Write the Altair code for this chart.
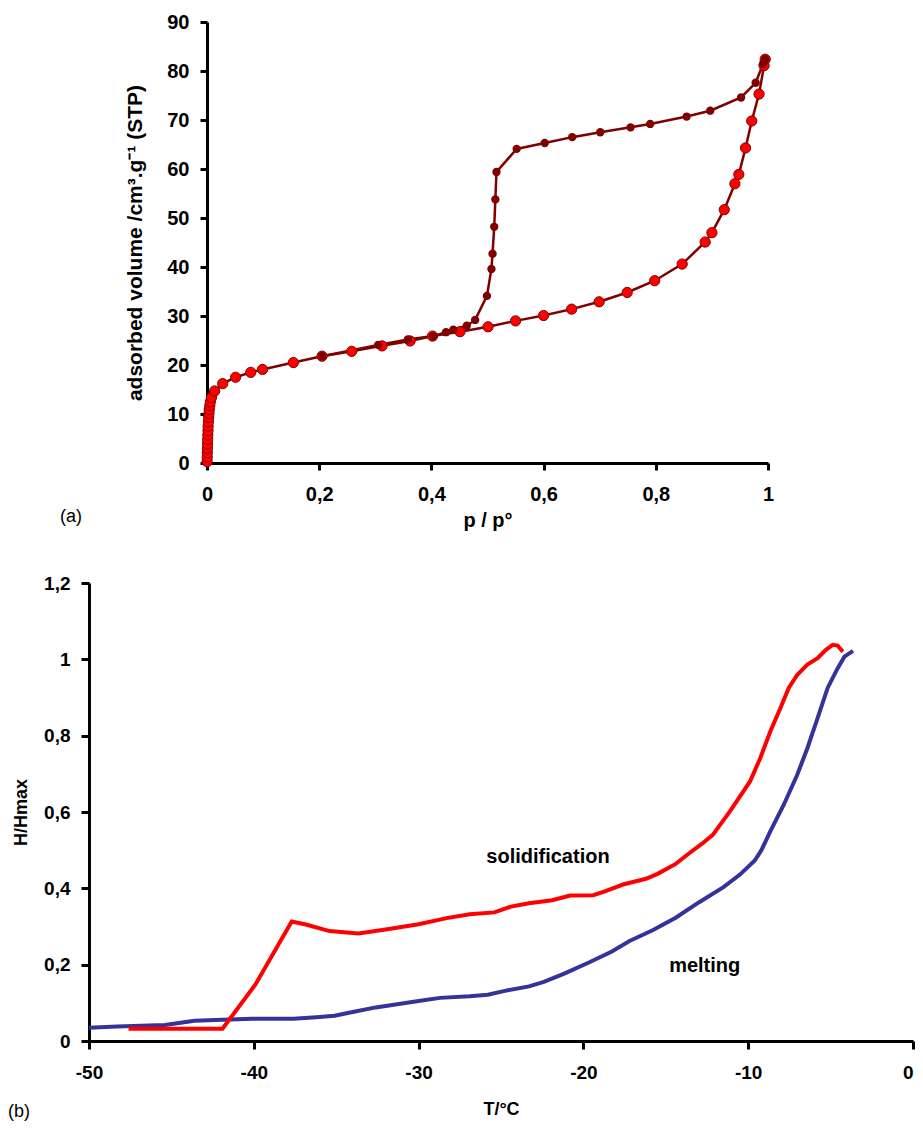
import altair as alt
import pandas as pd

FONT = "Liberation Sans"

# ---------------- panel (a): N2 isotherm ----------------
ads_p = [0.0002, 0.0004, 0.0006, 0.0008, 0.001, 0.0012, 0.0015, 0.0018, 0.002, 0.0025,
         0.003, 0.0035, 0.004, 0.005, 0.006, 0.008, 0.0136, 0.028, 0.051, 0.078,
         0.099, 0.154, 0.205, 0.258, 0.312, 0.362, 0.402, 0.451, 0.501, 0.550,
         0.600, 0.650, 0.699, 0.749, 0.798, 0.847, 0.888, 0.900, 0.922, 0.941,
         0.948, 0.960, 0.971, 0.984, 0.993, 0.995]
ads_v = [0.3, 1.2, 2.1, 3.0, 3.9, 4.8, 5.7, 6.6, 7.5, 8.4,
         9.3, 10.1, 10.9, 11.7, 12.5, 13.4, 14.7, 16.2, 17.5, 18.5,
         19.1, 20.5, 21.8, 22.8, 23.9, 24.9, 25.9, 26.8, 27.8, 29.0,
         30.1, 31.4, 32.9, 34.8, 37.2, 40.6, 45.1, 47.0, 51.7, 57.0,
         58.9, 64.3, 69.8, 75.3, 81.1, 82.4]

des_p = [0.995, 0.991, 0.978, 0.952, 0.897, 0.855, 0.790, 0.755, 0.701, 0.651,
         0.602, 0.552, 0.516, 0.514, 0.512, 0.509, 0.507, 0.499, 0.478, 0.463,
         0.439, 0.426, 0.403, 0.358, 0.305, 0.205]
des_v = [82.4, 81.4, 77.6, 74.6, 71.9, 70.7, 69.2, 68.5, 67.5, 66.5,
         65.3, 64.1, 59.4, 53.8, 48.2, 42.7, 39.6, 34.1, 29.2, 28.0,
         27.2, 26.7, 25.9, 25.2, 24.1, 21.8]

xa_ticks = [0, 0.2, 0.4, 0.6, 0.8, 1]
ya_ticks = [0, 10, 20, 30, 40, 50, 60, 70, 80, 90]

# ---------------- panel (b): thermoporometry ----------------
sol_t = [-47.6, -41.9, -39.9, -37.7, -36.9, -35.4, -33.65, -31.9, -30.0, -28.3,
         -26.9, -25.4, -24.4, -23.3, -21.9, -20.8, -19.4, -18.7, -17.6, -16.2,
         -15.5, -14.4, -13.58, -12.8, -12.15, -11.12, -9.89, -9.27, -8.66, -8.05,
         -7.54, -7.03, -6.41, -5.79, -5.28, -4.88, -4.57, -4.26]
sol_h = [0.032, 0.032, 0.148, 0.313, 0.306, 0.288, 0.282, 0.293, 0.306, 0.322,
         0.332, 0.337, 0.352, 0.361, 0.369, 0.381, 0.382, 0.392, 0.410, 0.425,
         0.438, 0.464, 0.492, 0.517, 0.540, 0.601, 0.680, 0.741, 0.811, 0.872,
         0.925, 0.959, 0.986, 1.003, 1.025, 1.038, 1.036, 1.020]

mel_t = [-50.0, -48.3, -45.4, -43.6, -41.9, -40.1, -37.6, -36.2, -35.1, -34.0,
         -32.6, -31.2, -30.0, -28.7, -26.9, -25.8, -24.7, -23.3, -22.4, -21.2,
         -19.7, -18.3, -17.2, -15.8, -14.4, -13.0, -11.5, -10.5, -9.6, -9.2,
         -8.66, -7.84, -7.03, -6.41, -5.79, -5.18, -4.57, -4.16, -3.64]
mel_h = [0.035, 0.038, 0.042, 0.053, 0.056, 0.058, 0.058, 0.062, 0.066, 0.076,
         0.088, 0.097, 0.105, 0.113, 0.117, 0.121, 0.132, 0.143, 0.155, 0.176,
         0.205, 0.234, 0.262, 0.290, 0.323, 0.363, 0.403, 0.436, 0.473, 0.500,
         0.549, 0.619, 0.697, 0.767, 0.846, 0.925, 0.977, 1.007, 1.022]

xb_ticks = [-50, -40, -30, -20, -10, 0]
yb_ticks = [0, 0.2, 0.4, 0.6, 0.8, 1, 1.2]

ann_text = ["solidification", "melting"]
ann_t = [-22.15, -12.64]
ann_h = [0.467, 0.181]

COMMA = "replace('' + datum.value, '.', ',')"

# layout (pixels): both panels share the same group origin; panel (a)'s plot is
# shifted right inside its group by A_SHIFT
A_SHIFT = 118
A_W = 561


def axis(values, title, orient, tick, lpad, tpad, lsize, tsize, **kw):
    return alt.Axis(
        values=values, title=title, labelExpr=COMMA, grid=False,
        domainColor="black", domainWidth=3, tickColor="black", tickWidth=3,
        tickSize=tick, labelFont=FONT, labelFontWeight="bold", labelFontSize=lsize,
        labelColor="black", labelPadding=lpad, labelFlush=False, labelOverlap=False,
        titleFont=FONT, titleFontWeight="bold", titleFontSize=tsize, titleColor="black",
        titlePadding=tpad, orient=orient, **kw
    )


# ---- panel a ----
ads = pd.DataFrame({"p": ads_p, "v": ads_v, "i": list(range(len(ads_p)))})
des = pd.DataFrame({"p": des_p, "v": des_v, "i": list(range(len(des_p)))})

xa = alt.X("p:Q", scale=alt.Scale(domain=[0, 1], nice=False, zero=False,
                                  range=[A_SHIFT, A_SHIFT + A_W]),
           axis=axis(xa_ticks, "p / p°", "bottom", 7, 14, 6, 20, 20))
ya = alt.Y("v:Q", scale=alt.Scale(domain=[0, 90], nice=False),
           axis=axis(ya_ticks, "adsorbed volume /cm³.g⁻¹ (STP)", "left", 7, 11, 21, 20, 21,
                     offset=-A_SHIFT))

ads_line = alt.Chart(ads).mark_line(color="#800000", strokeWidth=2.5).encode(x=xa, y=ya, order="i:Q")
ads_pts = alt.Chart(ads).mark_circle(size=105, color="#FF0000", stroke="#800000",
                                     strokeWidth=1, opacity=1).encode(x=xa, y=ya)
des_line = alt.Chart(des).mark_line(color="#800000", strokeWidth=2.5).encode(x=xa, y=ya, order="i:Q")
des_pts = alt.Chart(des).mark_circle(size=70, color="#800000", opacity=1).encode(x=xa, y=ya)

lab_a = alt.Chart(pd.DataFrame({"s": ["(a)"]})).mark_text(
    align="left", baseline="middle", font=FONT, fontSize=18, color="black"
).encode(x=alt.value(-29), y=alt.value(495), text="s:N")

panel_a = alt.layer(ads_line, des_line, ads_pts, des_pts, lab_a).properties(
    width=A_SHIFT + A_W, height=441)

# ---- panel b ----
sol = pd.DataFrame({"t": sol_t, "h": sol_h, "i": list(range(len(sol_t)))})
mel = pd.DataFrame({"t": mel_t, "h": mel_h, "i": list(range(len(mel_t)))})
ann = pd.DataFrame({"t": ann_t, "h": ann_h, "s": ann_text})

xb = alt.X("t:Q", scale=alt.Scale(domain=[-50, 0], nice=False, zero=False),
           axis=axis(xb_ticks, "T/°C", "bottom", 8, 14, 18, 19, 18,
                     labelAlign=alt.condition("datum.value == 0", alt.value("right"), alt.value("center"))))
yb = alt.Y("h:Q", scale=alt.Scale(domain=[0, 1.2], nice=False),
           axis=axis(yb_ticks, "H/Hmax", "left", 8, 11, 13, 19, 18))

mel_line = alt.Chart(mel).mark_line(color="#333399", strokeWidth=4).encode(x=xb, y=yb, order="i:Q")
sol_line = alt.Chart(sol).mark_line(color="#FF0000", strokeWidth=4).encode(x=xb, y=yb, order="i:Q")
ann_txt = alt.Chart(ann).mark_text(
    align="center", baseline="alphabetic", font=FONT, fontSize=20, fontWeight="bold", color="black"
).encode(x=xb, y=yb, text="s:N")
lab_b = alt.Chart(pd.DataFrame({"s": ["(b)"]})).mark_text(
    align="left", baseline="middle", font=FONT, fontSize=18, color="black"
).encode(x=alt.value(-81), y=alt.value(529), text="s:N")

panel_b = alt.layer(mel_line, sol_line, ann_txt, lab_b).properties(width=824, height=458)

chart = alt.vconcat(panel_a, panel_b, spacing=44).properties(
    padding={"left": 0, "top": 4, "right": 0, "bottom": 0}, background="white"
).configure_view(strokeWidth=0, stroke="transparent")

chart.save("out.html", embed_options={"renderer": "svg", "actions": False})
